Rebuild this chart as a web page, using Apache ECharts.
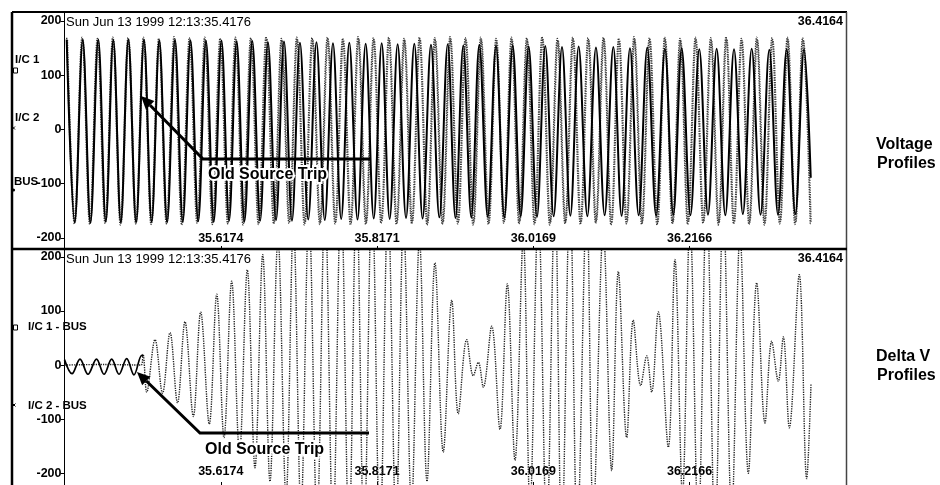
<!DOCTYPE html>
<html>
<head>
<meta charset="utf-8">
<title>Voltage / Delta V Profiles</title>
<script src="https://cdn.jsdelivr.net/npm/echarts@6.0.0/dist/echarts.min.js"></script>
<style>
  html, body { margin: 0; padding: 0; background: #fff; }
  #main { width: 940px; height: 485px; }
</style>
</head>
<body>
<div id="main"></div>
<script>
var dom = document.getElementById("main");
var myChart = echarts.init(dom);

// sweep starts at 12:13:35.4176, all times below are ms after that
var T0 = 35.4176;
var spanMs = 998.8;
var tickMs = 199.76;
var yTicks = [-200, -100, 0, 100, 200];

// ---- top panel : voltage profiles (peaks / troughs) ----
var ic1Ms = [
    2.8, 13.0, 23.3, 33.2, 43.2, 52.8, 62.4, 72.0, 81.6, 91.6,
    101.6, 111.4, 121.2, 131.2, 141.3, 151.2, 161.1, 171.0, 180.9, 190.8,
    200.7, 210.4, 220.1, 230.1, 240.1, 250.1, 260.1, 270.4, 280.6, 290.8,
    301.0, 311.6, 322.1, 332.7, 343.2, 353.7, 364.1, 374.6, 385.0, 395.3,
    405.5, 415.7, 425.9, 436.6, 447.2, 457.8, 468.5, 479.2, 489.9, 499.8,
    509.8, 520.0, 530.3, 541.0, 551.6, 562.3, 573.0, 583.2, 593.4, 604.0,
    614.6, 625.3, 636.0, 646.7, 657.3, 668.4, 679.4, 690.5, 701.6, 712.2,
    722.9, 734.0, 745.0, 756.3, 767.6, 778.3, 789.0, 800.2, 811.5, 822.6,
    833.7, 844.8, 855.9, 867.2, 878.5, 889.8, 901.0, 912.1, 923.2, 934.3,
    945.4, 954.0
];
var ic1V = [
    166, -171, 165, -172, 166, -170, 165, -171, 166, -171,
    165, -170, 164, -171, 165, -170, 164, -169, 163, -170,
    164, -168, 162, -169, 163, -168, 161, -167, 162, -168,
    160, -166, 161, -167, 159, -165, 160, -166, 158, -164,
    159, -165, 157, -163, 158, -164, 156, -162, 157, -163,
    155, -162, 156, -161, 154, -162, 155, -160, 153, -161,
    154, -160, 152, -159, 153, -160, 151, -158, 152, -159,
    150, -158, 151, -159, 149, -157, 150, -158, 148, -157,
    149, -158, 148, -156, 149, -157, 147, -157, 148, -156,
    148, -89
];

// bus and I/C 2 keep a steady rate: one sample per half cycle
var busStartMs = 2.8;
var busStepMs = 9.8;
var busV = [
    169, -174, 170, -175, 168, -173, 170, -176, 169, -174,
    170, -175, 168, -174, 171, -176, 169, -173, 170, -175,
    168, -174, 170, -176, 169, -175, 171, -174, 168, -173,
    170, -176, 169, -175, 170, -174, 168, -176, 171, -175,
    169, -173, 170, -175, 168, -174, 170, -176, 169, -175,
    171, -174, 169, -176, 170, -175, 168, -173, 170, -174,
    169, -175, 171, -176, 168, -174, 170, -175, 169, -173,
    170, -176, 168, -174, 171, -175, 169, -176, 170, -174,
    168, -175, 170, -173, 169, -176, 171, -174, 168, -175,
    170, -176, 169, -174, 170, -175, 169, -176
];
var ic2StartMs = 3.8;
var ic2StepMs = 9.8;
var ic2V = [
    165, -170, 166, -171, 164, -169, 166, -172, 165, -170,
    166, -171, 164, -170, 167, -172, 165, -169, 166, -171,
    164, -170, 166, -172, 165, -171, 167, -170, 164, -169,
    166, -172, 165, -171, 166, -170, 164, -172, 167, -171,
    165, -169, 166, -171, 164, -170, 166, -172, 165, -171,
    167, -170, 165, -172, 166, -171, 164, -169, 166, -170,
    165, -171, 167, -172, 164, -170, 166, -171, 165, -169,
    166, -172, 164, -170, 167, -171, 165, -172, 166, -170,
    164, -171, 166, -169, 165, -172, 167, -170, 164, -171,
    166, -172, 165, -170, 166, -171, 165, -172
];

// ---- bottom panel : delta V ----
var dv1Ms = [0, 9.6, 19.8, 30.0, 40.9, 50.5, 60.3, 69.7, 79.5, 88.8, 98.7, 100.4];
var dv1V = [10, -16, 11, -17, 11, -17, 11, -17, 12, -18, 18, 16];

var dv2Ms = [
    0, 50.5, 97.8,
    100.4, 105.1, 115.7, 125.3, 134.9, 144.5, 154.0, 164.7, 174.1, 185.1,
    194.6, 203.9, 213.7, 223.7, 233.7, 243.5, 253.4, 262.7, 272.9, 283.2,
    292.7, 302.3, 312.5, 322.8, 333.0, 343.2, 353.5, 363.7, 373.3, 382.9,
    393.1, 403.3, 413.6, 423.8, 433.4, 443.6, 453.8, 463.4, 473.6, 484.2,
    495.0, 503.4, 514.2, 522.6, 529.0, 535.4, 546.1, 556.7, 566.1, 575.9,
    586.5, 595.1, 605.7, 616.4, 627.0, 635.6, 646.2, 655.5, 667.6, 676.0,
    688.8, 699.5, 708.0, 718.7, 727.1, 736.6, 744.3, 750.6, 759.1, 771.9,
    780.4, 790.0, 799.6, 810.2, 821.0, 831.6, 842.2, 852.9, 863.6, 874.2,
    884.9, 895.5, 904.1, 912.5, 918.9, 926.6, 939.3, 948.8, 954.3
];
var dv2V = [
    0, 1, 0,
    20, -50, 47, -52, 60, -70, 80, -95, 98, -109,
    131, -134, 155, -165, 176, -190, 204, -215, 235, -245,
    262, -268, 285, -290, 303, -305, 318, -318, 325, -322,
    322, -318, 300, -295, 270, -262, 232, -215, 189, -161,
    120, -90, 47, -20, 5, -41, 72, -119, 150, -176,
    235, -265, 290, -310, 320, -330, 325, -315, 300, -280,
    250, -195, 173, -134, 83, -38, 17, -50, 98, -152,
    195, -240, 270, -300, 315, -320, 300, -280, 240, -200,
    152, -107, 44, -30, 52, -116, 167, -210, -35
];

function pairs(ms, v) {
    var out = [];
    for (var i = 0; i < v.length; i++) out.push([ms[i], v[i]]);
    return out;
}
function sampled(start, step, v) {
    var out = [];
    for (var i = 0; i < v.length; i++) out.push([start + i * step, v[i]]);
    return out;
}

var FONT = 'Liberation Sans, Arial, sans-serif';

function xAxisFor(idx, margin) {
    return {
        type: 'value',
        gridIndex: idx,
        min: 0,
        max: spanMs,
        interval: tickMs,
        axisLine: {show: false, onZero: false},
        axisTick: {show: true, inside: true, length: 3, lineStyle: {color: '#000'}},
        splitLine: {show: false},
        axisLabel: {
            inside: true,
            margin: margin,
            color: '#000',
            fontFamily: FONT,
            fontWeight: 'bold',
            fontSize: 12.5,
            formatter: function (v) {
                if (v < 1 || v > spanMs - 1) return '';
                return (T0 + v / 1000).toFixed(4);
            }
        }
    };
}
function yAxisFor(idx, min, max) {
    return {
        type: 'value',
        gridIndex: idx,
        min: min,
        max: max,
        axisLine: {show: true, onZero: false, lineStyle: {color: '#000', width: 1}},
        axisTick: {show: true, length: 4, customValues: yTicks, lineStyle: {color: '#000'}},
        splitLine: {show: false},
        axisLabel: {
            customValues: yTicks,
            margin: 3,
            color: '#000',
            fontFamily: FONT,
            fontWeight: 'bold',
            fontSize: 12.5
        }
    };
}

// "Old Source Trip" call-out: arrow tip, elbow, end of the bar
function callout(tip, elbow, endX, textY) {
    var dx = tip[0] - elbow[0], dy = tip[1] - elbow[1];
    var len = Math.sqrt(dx * dx + dy * dy);
    var ux = dx / len, uy = dy / len;
    var bx = tip[0] - ux * 13, by = tip[1] - uy * 13;
    return [
        {type: 'polyline', z: 100, shape: {points: [[endX, elbow[1]], elbow, [bx, by]]},
            style: {stroke: '#000', lineWidth: 3, fill: null}},
        {type: 'polygon', z: 100, shape: {points: [tip, [bx - uy * 6, by + ux * 6], [bx + uy * 6, by - ux * 6]]},
            style: {fill: '#000'}},
        {type: 'text', z: 101, x: elbow[0] + 5, y: textY,
            style: {text: 'Old Source Trip', font: 'bold 16px ' + FONT, fill: '#000',
                stroke: '#fff', lineWidth: 4, textVerticalAlign: 'middle'}}
    ];
}
function label(text, x, y, size, weight) {
    return {type: 'text', z: 100, x: x, y: y,
        style: {text: text, font: (weight || 'bold') + ' ' + size + 'px ' + FONT, fill: '#000',
            textVerticalAlign: 'middle'}};
}
function line(x1, y1, x2, y2, w, c) {
    return {type: 'line', z: 90, shape: {x1: x1, y1: y1, x2: x2, y2: y2},
        style: {stroke: c || '#000', lineWidth: w}};
}
function cross(x, y) {
    return [line(x - 1.5, y - 1.5, x + 1.5, y + 1.5, 1), line(x - 1.5, y + 1.5, x + 1.5, y - 1.5, 1)];
}

var graphics = [
    // frame
    line(12, 12, 12, 485, 2.5),
    line(12, 12, 847, 12, 2),
    line(846.5, 12, 846.5, 485, 1.5, '#444'),
    line(12, 249, 847, 249, 2.5),
    // date stamps and end times
    label('Sun Jun 13 1999 12:13:35.4176', 66, 22, 13, 'normal'),
    label('Sun Jun 13 1999 12:13:35.4176', 66, 259, 13, 'normal'),
    {type: 'text', z: 100, x: 843, y: 22, style: {text: '36.4164', font: 'bold 12.5px ' + FONT,
        fill: '#000', textAlign: 'right', textVerticalAlign: 'middle'}},
    {type: 'text', z: 100, x: 843, y: 259, style: {text: '36.4164', font: 'bold 12.5px ' + FONT,
        fill: '#000', textAlign: 'right', textVerticalAlign: 'middle'}},
    // channel names on the left
    label('I/C 1', 15, 60, 11.5),
    {type: 'rect', z: 100, shape: {x: 13.5, y: 68, width: 4, height: 5}, style: {fill: '#fff', stroke: '#000', lineWidth: 1}},
    label('I/C 2', 15, 118, 11.5),
    label('BUS', 14, 182, 11.5),
    {type: 'circle', z: 100, shape: {cx: 13.5, cy: 190, r: 1.6}, style: {fill: '#000'}},
    label('I/C 1 - BUS', 28, 327, 11.5),
    {type: 'rect', z: 100, shape: {x: 13.5, y: 325, width: 4, height: 5}, style: {fill: '#fff', stroke: '#000', lineWidth: 1}},
    label('I/C 2 - BUS', 28, 406, 11.5),
    // panel titles on the right
    label('Voltage', 876, 145, 16),
    label('Profiles', 877, 164, 16),
    label('Delta V', 876, 357, 16),
    label('Profiles', 877, 376, 16)
];
graphics = graphics.concat(cross(13.5, 128), cross(14, 405));
graphics = graphics.concat(callout([141, 96], [203, 159], 370, 175));
graphics = graphics.concat(callout([137, 372], [200, 433], 369, 450));

var dotted = {type: [1.3, 1.1], width: 1.4};

option = {
    animation: false,
    backgroundColor: '#fff',
    grid: [
        {left: 64.5, right: 94.2, top: 12, height: 237},
        {left: 64.5, right: 94.2, top: 249, height: 241}
    ],
    xAxis: [xAxisFor(0, 4), xAxisFor(1, 7)],
    yAxis: [yAxisFor(0, -220.3, 216.6), yAxisFor(1, -221.7, 214.5)],
    series: [
        {
            name: 'BUS', type: 'line', xAxisIndex: 0, yAxisIndex: 0,
            data: sampled(busStartMs, busStepMs, busV),
            smooth: 0.36, showSymbol: false,
            lineStyle: {color: '#333', width: dotted.width, type: dotted.type}
        },
        {
            name: 'I/C 2', type: 'line', xAxisIndex: 0, yAxisIndex: 0,
            data: sampled(ic2StartMs, ic2StepMs, ic2V),
            smooth: 0.36, showSymbol: false,
            lineStyle: {color: '#444', width: dotted.width, type: dotted.type}
        },
        {
            name: 'I/C 1', type: 'line', xAxisIndex: 0, yAxisIndex: 0,
            data: pairs(ic1Ms, ic1V),
            smooth: 0.36, showSymbol: false,
            lineStyle: {color: '#000', width: 2}
        },
        {
            name: 'I/C 2 - BUS', type: 'line', xAxisIndex: 1, yAxisIndex: 1,
            data: pairs(dv2Ms, dv2V),
            smooth: 0.36, showSymbol: false,
            lineStyle: {color: '#222', width: dotted.width, type: dotted.type}
        },
        {
            name: 'I/C 1 - BUS', type: 'line', xAxisIndex: 1, yAxisIndex: 1,
            data: pairs(dv1Ms, dv1V),
            smooth: 0.36, showSymbol: false,
            lineStyle: {color: '#000', width: 1.7}
        }
    ],
    graphic: graphics
};
myChart.setOption(option);
</script>
</body>
</html>
